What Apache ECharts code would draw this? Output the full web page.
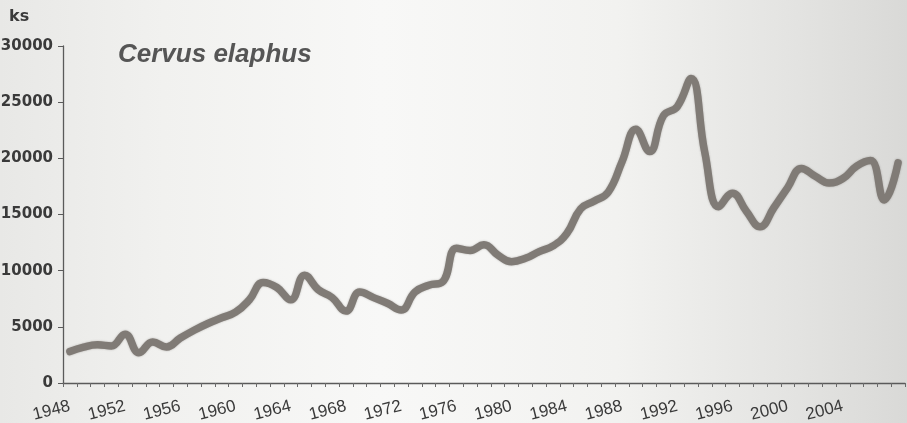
<!DOCTYPE html>
<html>
<head>
<meta charset="utf-8">
<script src="https://cdn.jsdelivr.net/npm/echarts@6/dist/echarts.min.js"></script>
<style>
  html, body { margin: 0; padding: 0; }
  body {
    width: 907px; height: 423px; overflow: hidden;
    background: linear-gradient(to right, #e8e8e6 0%, #f1f1ef 18%, #f8f8f7 42%, #f2f2f0 68%, #e3e3e1 88%, #d9d9d7 100%);
  }
  #chart { width: 907px; height: 423px; }
</style>
</head>
<body>
<div id="chart"></div>
<script>
// Red deer (Cervus elaphus) population, head count per year
const years = [];
for (let y = 1948; y <= 2008; y++) years.push(String(y));

const counts = [
  2800, 3200, 3400, 3300, 4350, 2700, 3650, 3200, 4000, 4700,   // 1948-1957
  5300, 5800, 6300, 7400, 8950, 8500, 7400, 9600, 8300, 7600,   // 1958-1967
  6400, 8100, 7600, 7100, 6500, 8100, 8700, 9000, 12000, 11800, // 1968-1977
  12300, 11400, 10800, 11100, 11700, 12200, 13300, 15500, 16200, 17000, // 1978-1987
  19700, 22600, 20600, 23800, 24600, 27100, 20500, 15700, 16900, 15300, // 1988-1997
  13900, 15600, 17400, 19100, 18400, 17800, 18200, 19300, 19800, 16300, // 1998-2007
  19600                                                          // 2008
];

// Years that get a label on the horizontal axis
const labeledYears = ['1948', '1952', '1956', '1960', '1964', '1968', '1972', '1976',
  '1980', '1984', '1988', '1992', '1996', '2000', '2004'];

const yTicks = [0, 5000, 10000, 15000, 20000, 25000, 30000];

const chart = echarts.init(document.getElementById('chart'), null, { renderer: 'canvas' });

chart.setOption({
  backgroundColor: 'transparent',
  animation: false,
  title: {
    text: 'Cervus elaphus',
    left: 113,
    top: 37,
    textStyle: {
      fontFamily: 'Liberation Sans, Arial, sans-serif',
      fontStyle: 'italic',
      fontWeight: 'bold',
      fontSize: 26,
      color: '#555555'
    }
  },
  graphic: [{
    type: 'text',
    left: 9,
    top: 9,
    style: {
      text: 'ks',
      font: 'bold 16px "DejaVu Sans", sans-serif',
      fill: '#3a3a3a'
    }
  }],
  grid: { left: 63, right: 2, top: 46, bottom: 40, containLabel: false, outerBoundsMode: 'none' },
  xAxis: {
    type: 'category',
    data: years,
    boundaryGap: true,
    axisLine: { lineStyle: { color: '#5a5a5a', width: 1.3 } },
    axisTick: { show: true, interval: 0, length: 4, lineStyle: { color: '#6a6a6a' } },
    axisLabel: {
      interval: function (idx, val) { return labeledYears.indexOf(val) !== -1; },
      rotate: 14,
      margin: 23,
      fontFamily: 'Liberation Sans, Arial, sans-serif',
      fontSize: 17,
      color: '#3a3a3a'
    },
    splitLine: { show: false }
  },
  yAxis: {
    type: 'value',
    min: yTicks[0],
    max: yTicks[yTicks.length - 1],
    interval: 5000,
    axisLine: { show: true, lineStyle: { color: '#5a5a5a', width: 1.3 } },
    axisTick: { show: true, length: 5, lineStyle: { color: '#5a5a5a' } },
    axisLabel: {
      margin: 10,
      formatter: function (v) { return String(v); },
      fontFamily: 'DejaVu Sans, sans-serif',
      fontWeight: 'bold',
      fontSize: 15,
      color: '#3a3a3a'
    },
    splitLine: { show: false }
  },
  series: [{
    type: 'line',
    data: counts,
    smooth: 0.45,
    symbol: 'none',
    lineStyle: {
      color: '#807b76',
      width: 7.5,
      cap: 'round',
      join: 'round',
      shadowColor: 'rgba(60,55,50,0.35)',
      shadowBlur: 2
    }
  }]
});
</script>
</body>
</html>
